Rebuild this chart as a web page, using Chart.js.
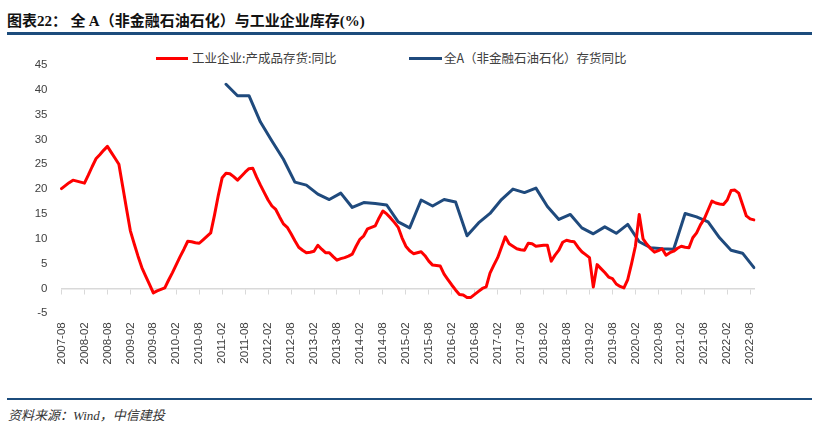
<!DOCTYPE html>
<html><head><meta charset="utf-8">
<script src="https://cdn.jsdelivr.net/npm/chart.js@4.4.0/dist/chart.umd.min.js"></script>
<style>
html,body{margin:0;padding:0;background:#fff;width:819px;height:432px;overflow:hidden;}
body{position:relative;font-family:"Noto Sans CJK SC","Noto Sans",sans-serif;}
#title{position:absolute;left:7px;top:12px;font-size:15px;line-height:15px;font-weight:bold;color:#111;white-space:nowrap;}
.serif{font-family:"Liberation Serif","DejaVu Serif",serif;font-weight:bold;}
#rule1{position:absolute;left:7px;width:805px;top:31.5px;height:3px;background:#1C4C7C;}
.lg{position:absolute;top:51px;font-size:12.5px;line-height:14px;color:#404040;white-space:nowrap;}
.lgline{position:absolute;top:57px;height:3px;}
#rule2{position:absolute;left:7px;width:805px;top:397.5px;height:2px;background:#1C4C7C;}
#src{position:absolute;left:8px;top:406.5px;font-size:13px;line-height:15px;font-style:italic;color:#333;white-space:nowrap;}
#src .w{font-family:"Liberation Serif",serif;font-style:italic;}
#wrap{position:absolute;left:0;top:43.7px;width:819px;height:346.3px;}
</style></head>
<body>
<div id="title">图表<span class="serif">22</span>： 全 <span class="serif">A</span>（非金融石油石化）与工业企业库存<span class="serif">(%)</span></div>
<div id="rule1"></div>
<div class="lgline" style="left:156px;width:32px;background:#FF0000"></div>
<div class="lg" style="left:192px">工业企业:产成品存货:同比</div>
<div class="lgline" style="left:409px;width:33px;background:#1F4A7D"></div>
<div class="lg" style="left:444px">全A（非金融石油石化）存货同比</div>
<div id="wrap"><canvas id="c"></canvas></div>
<div id="rule2"></div>
<div id="src">资料来源：<span class="w">Wind</span>，中信建投</div>
<script>
// monthly categories 2007-08 .. 2022-09
const startYear = 2007, startMonth = 8, monthCount = 182;
const xLabels = [];
for (let i = 0; i < monthCount; i++) {
  const t = startMonth - 1 + i;
  const y = startYear + Math.floor(t / 12), m = t % 12 + 1;
  xLabels.push(y + '-' + String(m).padStart(2, '0'));
}
// 工业企业:产成品存货:同比 (monthly, %)
const redValues = [
  20.1, 20.7, 21.3, 21.8, 21.6,
  21.4, 21.2, 22.8, 24.5, 26.1, 26.9, 27.8, 28.6, 27.4, 26.2, 25.0, 20.5,
  16.0, 11.6, 9.0, 6.5, 4.2, 2.5, 0.8, -0.9, -0.5, -0.2, 0.1, 1.7,
  3.2, 4.8, 6.4, 7.9, 9.5, 9.4, 9.2, 9.1, 9.8, 10.5, 11.2, 14.8,
  18.8, 22.3, 23.2, 23.1, 22.5, 21.8, 22.6, 23.4, 24.1, 24.2, 22.4, 20.8,
  19.3, 17.8, 16.6, 15.9, 14.4, 13.0, 12.3, 11.0, 9.6, 8.3, 7.7, 7.2,
  7.3, 7.5, 8.7, 7.9, 7.2, 7.2, 6.4, 5.7, 6.0, 6.2, 6.5, 6.9,
  8.5, 9.9, 10.6, 12.0, 12.3, 12.6, 14.2, 15.6, 15.0, 14.2, 13.3, 12.3,
  10.2, 8.5, 7.6, 7.0, 7.2, 7.4, 6.6, 5.5, 4.7, 4.6, 4.5, 2.9,
  1.8, 0.7, -0.3, -1.2, -1.3, -1.8, -1.8, -1.2, -0.6, 0.0, 0.3, 3.1,
  4.7, 6.2, 8.3, 10.4, 9.0, 8.5, 8.0, 7.8, 7.7, 9.1, 9.0, 8.5,
  8.6, 8.7, 8.7, 5.5, 6.7, 7.7, 9.3, 9.7, 9.5, 9.4, 8.3, 7.4,
  6.8, 6.2, 0.3, 4.8, 4.0, 3.2, 2.3, 2.0, 0.9, 0.4, 0.1, 1.8,
  5.0, 8.5, 14.9, 10.0, 8.9, 8.0, 7.3, 7.6, 8.0, 6.7, 7.2, 7.5,
  8.1, 8.5, 8.3, 8.2, 10.2, 11.2, 12.8, 14.0, 15.8, 17.6, 17.2, 17.0,
  16.9, 17.8, 19.7, 19.8, 19.2, 16.9, 14.6, 14.0, 13.8
];
// 全A（非金融石油石化）存货同比 (quarterly from 2011-03, %)
const blueStart = '2011-03';
const blueValues = [
  41.1, 38.8, 38.8, 33.5,
  29.7, 26.0, 21.4, 20.8,
  19.0, 17.9, 19.2, 16.3,
  17.3, 17.1, 16.8, 13.4,
  12.2, 17.8, 16.6, 17.9,
  17.4, 10.6, 13.2, 15.1,
  17.9, 20.0, 19.3, 20.2,
  16.5, 13.9, 14.9, 12.2,
  11.0, 12.4, 11.1, 12.9,
  9.4, 8.2, 8.0, 7.9,
  15.1, 14.4, 13.4, 10.2,
  7.7, 7.1, 4.2
];
const yTicks = [-5, 0, 5, 10, 15, 20, 25, 30, 35, 40, 45];

const blueSeries = new Array(monthCount).fill(null);
const b0 = xLabels.indexOf(blueStart);
blueValues.forEach((v, k) => { blueSeries[b0 + 3 * k] = v; });

new Chart(document.getElementById('c'), {
  type: 'line',
  data: {
    labels: xLabels,
    datasets: [
      { label: '工业企业:产成品存货:同比', data: redValues, borderColor: '#FF0000', backgroundColor: '#FF0000',
        borderWidth: 3, pointRadius: 0, tension: 0, borderJoinStyle: 'round', borderCapStyle: 'round' },
      { label: '全A（非金融石油石化）存货同比', data: blueSeries, borderColor: '#1F4A7D', backgroundColor: '#1F4A7D',
        borderWidth: 3, pointRadius: 0, tension: 0, spanGaps: true, borderJoinStyle: 'round', borderCapStyle: 'round' }
    ]
  },
  options: {
    responsive: true, maintainAspectRatio: false, animation: false,
    layout: { padding: { top: 0, right: 65, left: 0, bottom: 0 } },
    plugins: { legend: { display: false }, tooltip: { enabled: false } },
    scales: {
      x: {
        type: 'category', position: 'bottom',
        grid: { display: false, drawTicks: false },
        border: { display: false },
        ticks: {
          autoSkip: false, maxRotation: 90, minRotation: 90, padding: 9,
          color: '#404040', font: { family: '"Liberation Sans", Arial, sans-serif', size: 11.5 },
          callback: (v, i) => (i % 6 === 0 ? xLabels[i] : '')
        },
        afterFit: s => { s.height = 77; }
      },
      x2: {
        type: 'category', position: { y: 0 },
        grid: { display: true, drawOnChartArea: false, drawTicks: true, tickLength: 5, lineWidth: 1,
          color: ctx => (ctx.index % 6 === 0 ? '#D9D9D9' : 'rgba(0,0,0,0)') },
        border: { display: true, color: '#D9D9D9', width: 1.5 },
        ticks: { display: false, autoSkip: false }
      },
      y: {
        min: -5, max: 45,
        afterBuildTicks: s => { s.ticks = yTicks.map(v => ({ value: v })); },
        grid: { display: false, drawTicks: false },
        border: { display: false },
        ticks: { padding: 14, color: '#404040', font: { family: '"Liberation Sans", Arial, sans-serif', size: 11.5 } },
        afterFit: s => { s.width = 61.5; }
      }
    }
  }
});
</script>
</body></html>
